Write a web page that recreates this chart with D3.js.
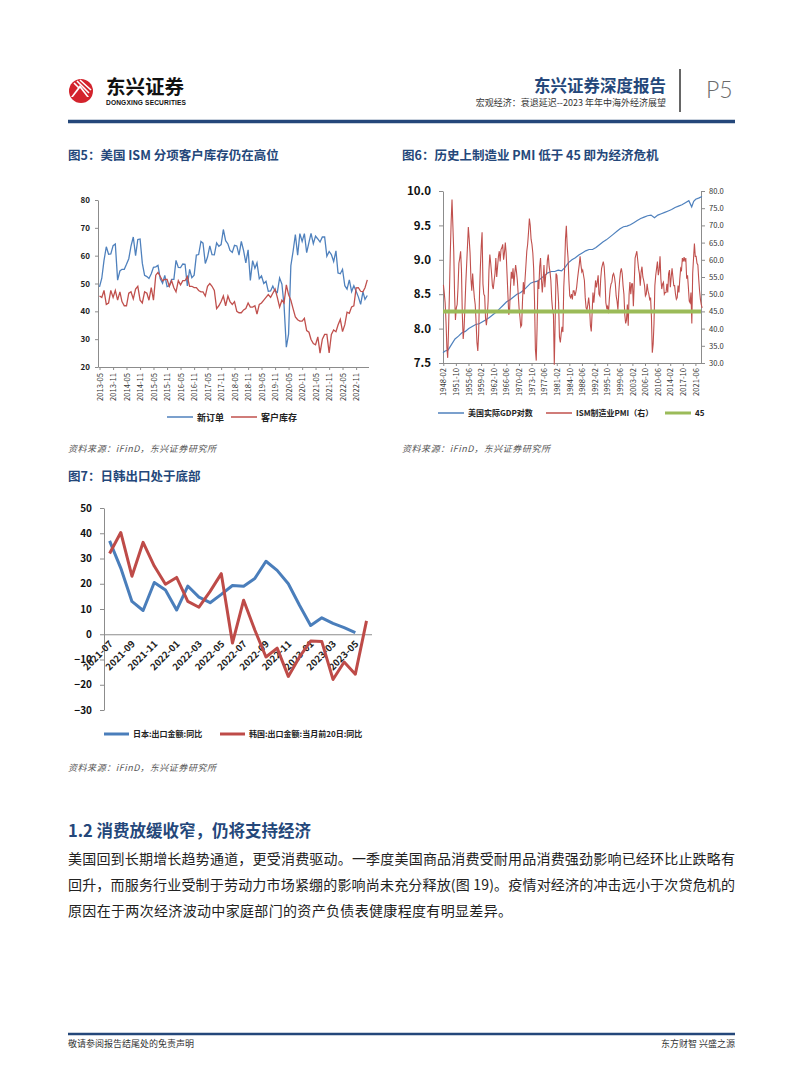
<!DOCTYPE html>
<html><head><meta charset="utf-8">
<script src="https://cdn.jsdelivr.net/npm/d3@7/dist/d3.min.js"></script>
<style>
html,body{margin:0;padding:0;background:#fff;}
svg{display:block;}
</style></head><body>
<svg id="page" width="802" height="1086"></svg>
<script>
// ---------------- DATA ----------------
// Figure 5: ISM new orders & customer inventories, monthly 2013-05 .. 2023-04
const fig5Start = "2013-05";
const fig5TickLabels = ["2013-05","2013-11","2014-05","2014-11","2015-05","2015-11","2016-05","2016-11","2017-05","2017-11","2018-05","2018-11","2019-05","2019-11","2020-05","2020-11","2021-05","2021-11","2022-05","2022-11"];
const newOrders = [48.8,51.9,58.3,63.2,60.5,60.6,63.6,64.2,
 51.2,54.5,55.1,55.1,56.9,58.9,63.4,66.7,60.0,65.8,66.0,57.3,
 52.9,52.5,51.8,53.5,55.8,56.0,56.5,51.7,50.1,52.9,48.9,49.2,
 51.5,51.5,58.3,55.8,55.7,57.0,56.9,49.1,55.1,52.1,53.0,60.2,
 60.4,65.1,64.5,57.2,59.5,63.5,60.4,60.3,64.6,63.4,64.0,69.4,
 65.4,64.2,61.9,61.2,63.7,63.5,60.2,65.1,61.8,57.4,62.1,51.1,
 58.2,55.5,57.4,51.7,52.7,50.0,50.8,47.2,47.3,49.1,47.2,46.8,
 52.0,49.8,42.2,27.1,31.8,56.4,61.5,67.6,60.2,67.9,65.1,67.9,
 61.1,64.8,68.0,64.3,67.0,66.0,64.9,66.7,66.7,59.8,61.5,60.4,
 57.9,61.7,53.8,53.5,55.1,49.2,48.0,51.3,47.1,49.2,47.2,45.2,
 42.5,47.0,44.3,45.7];
const custInventories = [45.5,45.0,47.5,42.5,43.0,47.5,45.0,47.5,
 44.0,47.0,43.5,42.0,42.0,46.5,47.0,44.5,48.0,49.0,44.0,43.0,
 47.0,46.5,44.0,48.5,44.0,53.0,54.0,52.5,51.0,51.5,51.5,49.0,
 51.0,48.5,47.0,51.0,49.5,51.0,51.0,52.5,49.0,49.0,48.5,48.5,
 47.5,47.0,47.0,45.5,49.0,50.0,49.0,47.5,41.0,42.0,43.5,45.5,
 42.0,45.5,43.5,42.5,43.5,40.0,39.5,39.5,40.5,41.0,43.0,41.5,
 41.5,42.0,39.0,42.5,43.0,44.0,45.0,46.0,45.0,46.5,48.0,45.0,
 41.5,44.0,43.0,49.5,46.0,44.0,41.0,38.0,37.0,36.5,36.5,37.5,
 33.1,32.5,29.9,28.4,28.0,30.8,25.0,30.0,31.7,31.7,25.1,31.7,
 33.3,32.7,35.1,37.1,32.7,35.2,39.7,39.3,41.6,42.0,48.4,48.5,
 47.2,47.0,48.5,51.3];
const fig5Ticks = [20,30,40,50,60,70,80];
const fig5Legend = ["新订单","客户库存"];

// Figure 6: log real GDP (left) and ISM manufacturing PMI (right, quarterly readings)
const fig6TickLabels = ["1948-02","1951-10","1955-06","1959-02","1962-10","1966-06","1970-02","1973-10","1977-06","1981-02","1984-10","1988-06","1992-02","1995-10","1999-06","2003-02","2006-10","2010-06","2014-02","2017-10","2021-06"];
const gdpYears = [1948.0,1948.5,1949.5,1950.5,1951.5,1952.5,1953.5,1954.5,1955.5,1956.5,1957.5,1958.5,1959.5,
 1960.5,1961.5,1962.5,1963.5,1964.5,1965.5,1966.5,1967.5,1968.5,1969.5,1970.5,1971.5,1972.5,1973.5,1974.5,
 1975.5,1976.5,1977.5,1978.5,1979.5,1980.5,1981.5,1982.5,1983.5,1984.5,1985.5,1986.5,1987.5,1988.5,1989.5,
 1990.5,1991.5,1992.5,1993.5,1994.5,1995.5,1996.5,1997.5,1998.5,1999.5,2000.5,2001.5,2002.5,2003.5,2004.5,
 2005.5,2006.5,2007.5,2008.5,2009.5,2010.5,2011.5,2012.5,2013.5,2014.5,2015.5,2016.5,2017.5,2018.5,2019.5,
 2020.3,2020.9,2021.5,2022.5,2023.3];
const gdpLog = [7.65,7.67,7.69,7.77,7.85,7.89,7.94,7.96,8.00,8.03,8.06,8.07,8.10,
 8.13,8.16,8.20,8.24,8.29,8.34,8.39,8.42,8.46,8.50,8.52,8.56,8.61,8.66,8.68,
 8.69,8.73,8.77,8.81,8.83,8.83,8.85,8.84,8.89,8.96,9.00,9.03,9.07,9.10,9.13,
 9.15,9.15,9.18,9.22,9.26,9.29,9.33,9.37,9.41,9.45,9.48,9.49,9.51,9.54,9.57,
 9.60,9.62,9.64,9.65,9.61,9.65,9.67,9.69,9.71,9.73,9.76,9.78,9.80,9.83,9.86,
 9.77,9.85,9.88,9.90,9.92];
const pmiStartYear = 1948;
const pmiQuarterly = [
 52.7,50.3,47.5,42.0, 34.5,31.5,40.0,50.5, 62.0,71.0,77.5,70.0, 62.5,50.0,42.5,46.0,
 47.0,52.0,59.0,60.5, 62.5,57.0,44.0,37.0, 40.0,46.0,53.0,58.5, 64.0,69.5,66.0,62.0,
 54.5,51.0,56.0,52.0, 49.0,47.0,42.0,36.0, 33.5,38.5,50.0,58.0, 64.0,68.0,53.0,50.0,
 49.5,43.0,41.0,43.5, 48.0,57.0,61.5,59.0, 56.0,52.5,51.5,54.0, 56.0,60.5,55.0,58.0,
 61.0,62.5,59.5,63.0, 63.5,64.5,60.0,62.0, 65.0,62.0,56.0,50.0, 44.0,45.5,52.0,56.5,
 54.5,57.5,52.5,56.0, 58.5,56.5,54.0,50.0, 46.0,43.5,40.5,41.0, 48.0,53.5,50.0,54.5,
 58.5,62.5,64.5,68.0, 72.0,70.0,66.0,64.5, 62.0,57.5,48.0,34.0, 30.7,40.5,54.0,51.5,
 58.0,60.5,54.5,50.5, 54.0,58.5,52.0,55.5, 56.0,60.0,61.5,58.0, 56.5,54.0,48.5,45.5,
 44.0,29.5,42.0,56.0, 55.5,52.0,47.5,37.5, 36.0,38.5,40.5,39.0, 52.0,57.5,66.0,69.9,
 64.0,60.5,54.0,49.5, 49.0,50.0,48.5,51.0, 51.0,49.5,50.5,52.0, 54.5,56.5,58.5,61.0,
 58.5,56.5,57.0,55.5, 54.0,49.0,46.0,45.5, 47.0,49.0,46.5,41.0, 39.2,44.5,50.5,47.5,
 50.5,54.0,52.0,53.5, 55.5,50.0,49.5,54.5, 57.5,58.5,59.5,58.0, 54.0,47.5,46.0,46.5,
 44.5,48.5,51.5,53.0, 53.5,55.5,56.0,55.0, 53.0,49.5,48.0,45.5, 50.5,54.0,56.5,57.5,
 56.0,52.5,50.0,44.0, 41.5,42.5,47.0,40.8, 50.0,53.5,50.0,53.0, 53.0,46.5,53.0,60.5,
 61.5,62.5,60.0,57.5, 56.0,52.5,56.5,58.0, 55.0,54.0,52.5,49.5, 50.0,53.0,51.0,50.0,
 48.5,49.0,43.5,33.0, 35.5,41.5,52.5,55.5, 57.5,59.5,55.5,57.0, 61.0,54.5,51.5,53.0,
 53.5,50.0,50.5,50.5, 53.0,50.5,56.0,57.0, 52.0,55.0,57.5,55.0, 52.5,52.5,50.0,48.5,
 49.0,52.5,50.5,54.5, 57.5,57.0,60.5,59.5, 60.8,59.5,60.5,54.5, 55.5,52.0,48.0,47.5,
 50.5,41.5,56.0,60.5, 64.7,61.0,61.0,59.0, 58.5,54.5,51.0,48.5, 47.0,46.0];
const crisisLine = 45;
const fig6LeftTicks = [7.5,8.0,8.5,9.0,9.5,10.0];
const fig6RightTicks = [30,35,40,45,50,55,60,65,70,75,80];
const fig6Legend = ["美国实际GDP对数","ISM制造业PMI（右）","45"];

// Figure 7: Japan / Korea export YoY
const fig7Months = ["2021-07","2021-08","2021-09","2021-10","2021-11","2021-12","2022-01","2022-02","2022-03","2022-04","2022-05","2022-06","2022-07","2022-08","2022-09","2022-10","2022-11","2022-12","2023-01","2023-02","2023-03","2023-04","2023-05","2023-06"];
const japanExports = [37.0,26.2,13.0,9.4,20.5,17.5,9.6,19.1,14.7,12.5,15.8,19.3,19.0,22.1,28.9,25.3,20.0,11.5,3.5,6.5,4.3,2.6,0.6,null];
const koreaExports20d = [32.0,40.3,23.0,36.4,27.0,19.8,22.5,13.0,10.7,17.0,24.0,-3.5,13.5,1.7,-9.0,-5.5,-16.7,-9.0,-2.7,-2.9,-17.9,-11.0,-15.8,5.3];
const fig7Ticks = [-30,-20,-10,0,10,20,30,40,50];
const fig7Legend = ["日本:出口金额:同比","韩国:出口金额:当月前20日:同比"];

// ---------------- DRAW ----------------
const FONT = '"Noto Sans CJK SC","Noto Sans",sans-serif';
const NAVY = "#24477A";
const AX = "#8c8c8c";
const svg = d3.select("#page").attr("font-family", FONT);
const parseM = d3.timeParse("%Y-%m");

function txt(x, y, s, size, opt = {}) {
  const t = svg.append("text").attr("x", x).attr("y", y).text(s)
    .attr("font-size", size).attr("fill", opt.fill || "#222")
    .attr("font-weight", opt.weight || "normal")
    .attr("text-anchor", opt.anchor || "start");
  if (opt.italic) t.attr("font-style", "italic");
  if (opt.len) t.attr("textLength", opt.len).attr("lengthAdjust", "spacing");
  if (opt.family) t.attr("font-family", opt.family);
  return t;
}
function styleAxis(g, size, weight, fill) {
  g.attr("font-family", FONT);
  g.select(".domain").attr("stroke", AX);
  g.selectAll(".tick line").attr("stroke", AX);
  g.selectAll(".tick text").attr("font-size", size).attr("font-weight", weight).attr("fill", fill || "#222");
}

// ---- header ----
const logo = svg.append("g");
logo.append("circle").attr("cx", 81).attr("cy", 91).attr("r", 12).attr("fill", "#D3232C");
logo.append("path").attr("d", "M71,97 L80,85 L89,97 Z").attr("fill", "#fff");
logo.append("path").attr("d", "M74,83 L86,95 M77,81 L89,93 M80,80 L91,90").attr("stroke", "#fff").attr("stroke-width", 1.6);
logo.append("path").attr("d", "M73,97 L80,88 L87,97 Z").attr("fill", "#D3232C");
txt(106, 94, "东兴证券", 19.5, {weight: "bold", fill: "#111"});
txt(106, 105, "DONGXING SECURITIES", 6.6, {weight: "bold", fill: "#111", len: 80, family: '"Liberation Sans",Arial,sans-serif'});
txt(666, 92, "东兴证券深度报告", 16.5, {weight: "bold", fill: NAVY, anchor: "end"});
txt(666, 106, "宏观经济：衰退延迟--2023 年年中海外经济展望", 9, {fill: "#333", anchor: "end"});
svg.append("line").attr("x1", 680).attr("x2", 680).attr("y1", 69).attr("y2", 112).attr("stroke", "#666").attr("stroke-width", 2);
txt(706, 98, "P5", 23, {fill: "#6b6b6b", weight: 300, family: 'Lato,"Open Sans",sans-serif'});
svg.append("line").attr("x1", 68).attr("x2", 735).attr("y1", 121.5).attr("y2", 121.5).attr("stroke", NAVY).attr("stroke-width", 3.5);

// ---- Figure 5 ----
txt(68, 160, "图5：美国 ISM 分项客户库存仍在高位", 12.5, {weight: "bold", fill: NAVY});
const d5 = newOrders.map((v, i) => ({date: d3.timeMonth.offset(parseM(fig5Start), i), a: v, b: custInventories[i]}));
const x5 = d3.scaleTime().domain([d5[0].date, d5[d5.length - 1].date]).range([99.5, 367.3]);
const y5 = d3.scaleLinear().domain([20, 80]).range([367, 200]);
const ax5y = svg.append("g").attr("transform", "translate(98,0)")
  .call(d3.axisLeft(y5).tickValues(fig5Ticks).tickSize(3).tickPadding(5).tickSizeOuter(0));
styleAxis(ax5y, 8, "bold");
const ax5x = svg.append("g").attr("transform", "translate(0,367)")
  .call(d3.axisBottom(x5).tickValues(fig5TickLabels.map(parseM)).tickFormat(d3.timeFormat("%Y-%m")).tickSize(3).tickSizeOuter(0));
styleAxis(ax5x, 7.6, "normal", "#333");
ax5x.select(".domain").attr("d", "M98.5,0.5H369");
ax5x.selectAll(".tick text").attr("transform", "rotate(-90)").attr("x", -6).attr("y", 0).attr("dy", "0.35em").attr("text-anchor", "end");
svg.append("path").datum(d5).attr("fill", "none").attr("stroke", "#4F81BD").attr("stroke-width", 1.3)
  .attr("d", d3.line().x(d => x5(d.date)).y(d => y5(d.a)));
svg.append("path").datum(d5).attr("fill", "none").attr("stroke", "#C0504D").attr("stroke-width", 1.3)
  .attr("d", d3.line().x(d => x5(d.date)).y(d => y5(d.b)));
[[167, "#4F81BD", fig5Legend[0]], [231, "#C0504D", fig5Legend[1]]].forEach(([lx, c, s]) => {
  svg.append("line").attr("x1", lx).attr("x2", lx + 26).attr("y1", 417).attr("y2", 417).attr("stroke", c).attr("stroke-width", 1.5);
  txt(lx + 30, 420.5, s, 9, {weight: "bold", fill: "#222"});
});
txt(68, 452, "资料来源：iFinD，东兴证券研究所", 9, {italic: true, fill: "#555", len: 148});

// ---- Figure 6 ----
txt(402, 160, "图6：历史上制造业 PMI 低于 45 即为经济危机", 12.5, {weight: "bold", fill: NAVY});
const x6 = d3.scaleTime().domain([new Date(1948, 0, 1), new Date(2023, 4, 1)]).range([443, 702]);
const yL = d3.scaleLinear().domain([7.5, 10]).range([363, 191]);
const yR = d3.scaleLinear().domain([30, 80]).range([363, 191]);
const ax6l = svg.append("g").attr("transform", "translate(443,0)")
  .call(d3.axisLeft(yL).tickValues(fig6LeftTicks).tickFormat(d3.format(".1f")).tickSize(4).tickPadding(8).tickSizeOuter(0));
styleAxis(ax6l, 11.5, "bold", "#111");
const ax6r = svg.append("g").attr("transform", "translate(701,0)")
  .call(d3.axisRight(yR).tickValues(fig6RightTicks).tickFormat(d3.format(".1f")).tickSize(4).tickPadding(4).tickSizeOuter(0));
styleAxis(ax6r, 7.6, "normal", "#333");
const ax6x = svg.append("g").attr("transform", "translate(0,363)")
  .call(d3.axisBottom(x6).tickValues(fig6TickLabels.map(parseM)).tickFormat(d3.timeFormat("%Y-%m")).tickSize(3).tickSizeOuter(0));
styleAxis(ax6x, 7.6, "normal", "#333");
ax6x.select(".domain").attr("d", "M443,0.5H701");
ax6x.selectAll(".tick text").attr("transform", "rotate(-90)").attr("x", -5).attr("y", 0).attr("dy", "0.35em").attr("text-anchor", "end");
const gdp = gdpYears.map((t, i) => ({date: new Date(Math.floor(t), Math.round((t - Math.floor(t)) * 12), 1), v: gdpLog[i]}));
const pmi = pmiQuarterly.map((v, i) => ({date: new Date(pmiStartYear, i * 3 + 1, 15), v}));
svg.append("path").datum(gdp).attr("fill", "none").attr("stroke", "#4F81BD").attr("stroke-width", 1.2)
  .attr("d", d3.line().x(d => x6(d.date)).y(d => yL(d.v)));
svg.append("path").datum(pmi).attr("fill", "none").attr("stroke", "#C0504D").attr("stroke-width", 1.1)
  .attr("d", d3.line().x(d => x6(d.date)).y(d => yR(d.v)));
svg.append("line").attr("x1", 443).attr("x2", 701).attr("y1", yR(crisisLine)).attr("y2", yR(crisisLine))
  .attr("stroke", "#9BBB59").attr("stroke-width", 4);
[[438, "#4F81BD", fig6Legend[0], 1.5], [546, "#C0504D", fig6Legend[1], 1.5], [665, "#9BBB59", fig6Legend[2], 3]].forEach(([lx, c, s, w]) => {
  svg.append("line").attr("x1", lx).attr("x2", lx + 26).attr("y1", 413).attr("y2", 413).attr("stroke", c).attr("stroke-width", w);
  txt(lx + 30, 416, s, 8, {weight: "bold", fill: "#222"});
});
txt(402, 452, "资料来源：iFinD，东兴证券研究所", 9, {italic: true, fill: "#555", len: 148});

// ---- Figure 7 ----
txt(68, 481, "图7：日韩出口处于底部", 12.5, {weight: "bold", fill: NAVY});
const x7 = d3.scalePoint().domain(fig7Months).range([109.6, 366.5]);
const y7 = d3.scaleLinear().domain([-30, 50]).range([710, 508]);
const ax7y = svg.append("g").attr("transform", "translate(104,0)")
  .call(d3.axisLeft(y7).tickValues(fig7Ticks).tickSize(4).tickPadding(8).tickSizeOuter(0));
styleAxis(ax7y, 10, "bold", "#111");
const ax7x = svg.append("g").attr("transform", `translate(0,${y7(0)})`)
  .call(d3.axisBottom(x7).tickValues(fig7Months.filter((m, i) => i % 2 === 0)).tickSize(0).tickSizeOuter(0));
styleAxis(ax7x, 9.5, "bold", "#222");
ax7x.select(".domain").attr("d", "M104,0.5H372");
ax7x.selectAll(".tick text").attr("transform", "translate(1,8) rotate(-45)").attr("x", 0).attr("y", 0).attr("dy", "0.35em").attr("text-anchor", "end");
const d7 = fig7Months.map((m, i) => ({m, a: japanExports[i], b: koreaExports20d[i]}));
svg.append("path").datum(d7).attr("fill", "none").attr("stroke", "#4A7EBB").attr("stroke-width", 3).attr("stroke-linejoin", "round")
  .attr("d", d3.line().defined(d => d.a !== null).x(d => x7(d.m)).y(d => y7(d.a)));
svg.append("path").datum(d7).attr("fill", "none").attr("stroke", "#BE4B48").attr("stroke-width", 3).attr("stroke-linejoin", "round")
  .attr("d", d3.line().x(d => x7(d.m)).y(d => y7(d.b)));
[[104, "#4A7EBB", fig7Legend[0]], [220, "#BE4B48", fig7Legend[1]]].forEach(([lx, c, s]) => {
  svg.append("line").attr("x1", lx).attr("x2", lx + 25).attr("y1", 734).attr("y2", 734).attr("stroke", c).attr("stroke-width", 3);
  txt(lx + 29, 737, s, 8, {weight: "bold", fill: "#222"});
});
txt(68, 771, "资料来源：iFinD，东兴证券研究所", 9, {italic: true, fill: "#555", len: 148});

// ---- Section text ----
txt(68, 837, "1.2 消费放缓收窄，仍将支持经济", 16.5, {weight: "bold", fill: NAVY});
txt(68, 864, "美国回到长期增长趋势通道，更受消费驱动。一季度美国商品消费受耐用品消费强劲影响已经环比止跌略有", 14, {fill: "#222", len: 667});
txt(68, 890, "回升，而服务行业受制于劳动力市场紧绷的影响尚未充分释放(图 19)。疫情对经济的冲击远小于次贷危机的", 14, {fill: "#222", len: 667});
txt(68, 916, "原因在于两次经济波动中家庭部门的资产负债表健康程度有明显差异。", 14, {fill: "#222", len: 444});

// ---- Footer ----
svg.append("line").attr("x1", 68).attr("x2", 735).attr("y1", 1034).attr("y2", 1034).attr("stroke", NAVY).attr("stroke-width", 2.5);
txt(68, 1047, "敬请参阅报告结尾处的免责声明", 9, {fill: "#333"});
txt(735, 1047, "东方财智 兴盛之源", 9, {fill: "#333", anchor: "end"});
</script>
</body></html>
